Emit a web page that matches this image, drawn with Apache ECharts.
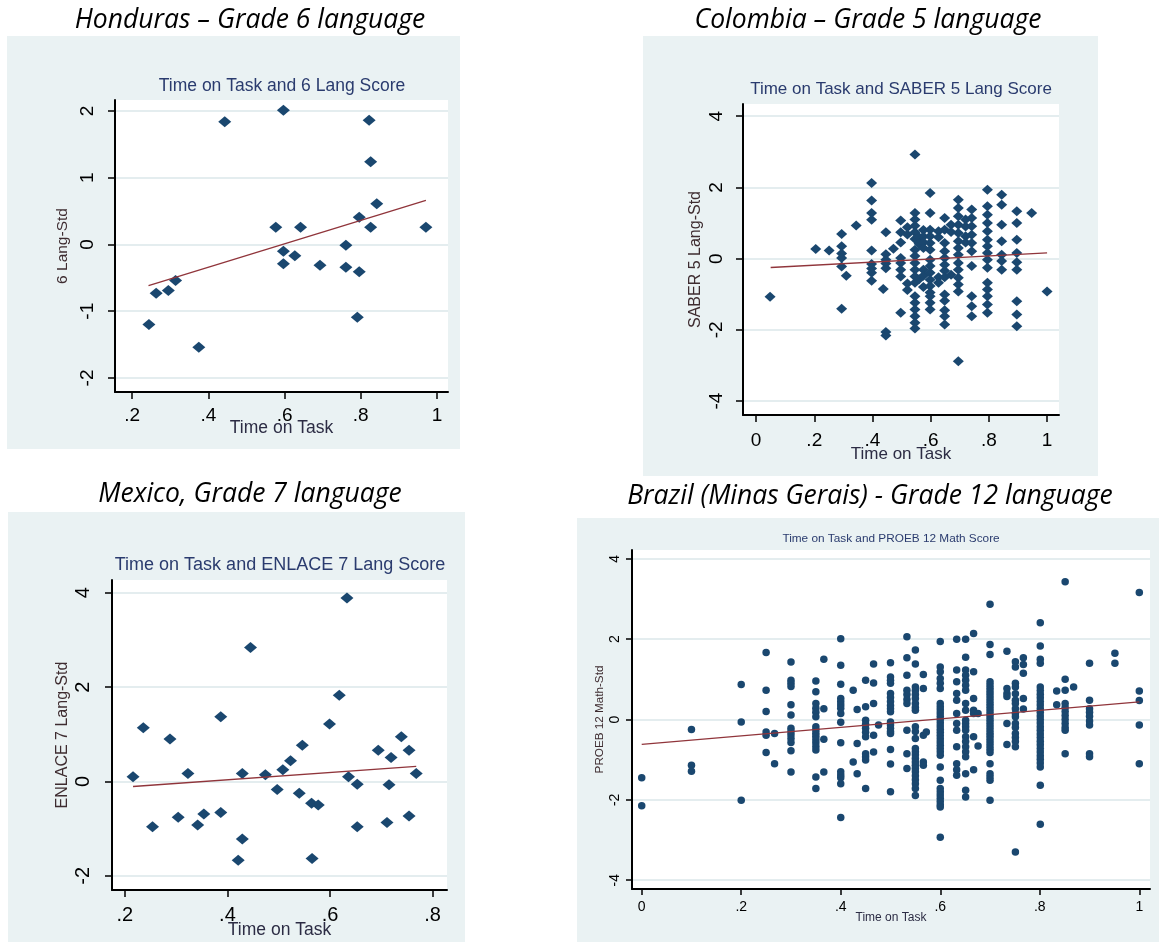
<!DOCTYPE html>
<html><head><meta charset="utf-8">
<script src="https://cdn.jsdelivr.net/npm/echarts@6/dist/echarts.min.js"></script>
<style>html,body{margin:0;padding:0;background:#fff;}#c{width:1159px;height:945px;}</style>
</head><body><div id="c"></div>
<script>
// ---------------- DATA ----------------
const panelTitles = ['Honduras – Grade 6 language', 'Colombia – Grade 5 language', 'Mexico, Grade 7 language', 'Brazil (Minas Gerais) - Grade 12 language'];
const plotTitles = ['Time on Task and 6 Lang Score', 'Time on Task and SABER 5 Lang Score', 'Time on Task and ENLACE 7 Lang Score', 'Time on Task and PROEB 12 Math Score'];
const yTitles = ['6 Lang-Std', 'SABER 5 Lang-Std', 'ENLACE 7 Lang-Std', 'PROEB 12 Math-Std'];
const xTitle = 'Time on Task';

const hondurasXTicks = [0.2, 0.4, 0.6, 0.8, 1];
const hondurasYTicks = [-2, -1, 0, 1, 2];
const colombiaXTicks = [0, 0.2, 0.4, 0.6, 0.8, 1];
const colombiaYTicks = [-4, -2, 0, 2, 4];
const mexicoXTicks = [0.2, 0.4, 0.6, 0.8];
const mexicoYTicks = [-2, 0, 2, 4];
const brazilXTicks = [0, 0.2, 0.4, 0.6, 0.8, 1];
const brazilYTicks = [-4, -2, 0, 2, 4];

const hondurasTime = [0.244,0.263,0.295,0.314,0.375,0.443,0.597,0.577,0.597,0.597,0.627,0.642,0.693,0.761,0.761,0.796,0.791,0.796,0.822,0.826,0.826,0.842,0.971];
const hondurasScore = [-1.20,-0.73,-0.69,-0.54,-1.54,1.84,2.01,0.26,-0.10,-0.29,-0.17,0.26,-0.31,-0.01,-0.34,-0.41,-1.09,0.41,1.86,1.24,0.26,0.61,0.26];
const hondurasFitX = [0.243, 0.971];
const hondurasFitY = [-0.615, 0.66];

const colombiaTime = [0.048,0.205,0.251,0.294,0.31,0.344,0.397,0.437,0.446,0.472,0.497,0.52,0.546,0.56,0.575,0.598,0.627,0.648,0.67,0.695,0.72,0.741,0.795,0.844,0.896,0.947,1.0];
const colombiaScores = [
  [-1.07],
  [0.27],
  [0.23],
  [0.69,0.35,0.14,0.02,-0.22,-1.41],
  [-0.48],
  [0.93],
  [2.12,1.63,1.28,1.09,0.23,-0.15,-0.28,-0.40,-0.62],
  [-0.85],
  [0.74,0.12,-0.03,-0.14,-0.27,-2.06,-2.16],
  [0.28],
  [1.07,0.74,0.45,0.02,-0.12,-0.31,-0.50,-1.52],
  [0.88,0.68,-0.70,-0.88],
  [2.92,1.28,1.10,0.92,0.74,0.55,0.25,0.07,-0.12,-0.31,-0.50,-0.68,-1.06,-1.24,-1.43,-1.62,-1.80,-1.96],
  [0.60,0.42,-0.58],
  [0.80,0.62,0.46,0.30,-0.31,-0.48,-0.80],
  [1.84,1.28,0.81,0.63,0.44,0.25,-0.03,-0.21,-0.40,-0.59,-0.77,-0.95,-1.06,-1.24,-1.43],
  [0.77,0.60,-0.52,-0.68],
  [1.14,0.81,0.44,0.21,0.02,-0.17,-0.34,-0.52,-1.01,-1.18,-1.45,-1.62,-1.85],
  [0.95,0.75,-0.45],
  [1.65,1.42,1.19,0.95,0.72,0.49,0.30,0.11,-0.12,-0.31,-0.54,-0.73,-0.92,-2.88],
  [1.10,0.90,0.63,0.45],
  [1.38,1.14,0.91,0.67,0.44,0.21,-0.21,-1.06,-1.34,-1.62],
  [1.93,1.47,1.23,1.00,0.77,0.53,0.35,0.16,-0.03,-0.26,-0.68,-0.87,-1.06,-1.29,-1.52],
  [1.79,1.51,0.95,0.49,0.11,-0.07,-0.31],
  [1.33,1.00,0.53,0.16,-0.10,-0.31,-1.20,-1.57,-1.90],
  [1.28],
  [-0.92]
];
const colombiaFitX = [0.05, 1.0];
const colombiaFitY = [-0.25, 0.16];

const mexicoTime = [0.216,0.236,0.254,0.288,0.304,0.323,0.342,0.354,0.387,0.387,0.421,0.429,0.429,0.445,0.474,0.497,0.508,0.523,0.540,0.546,0.564,0.577,0.565,0.599,0.618,0.633,0.636,0.653,0.653,0.694,0.711,0.715,0.719,0.739,0.754,0.754,0.768];
const mexicoScore = [0.10,1.14,-0.96,0.90,-0.76,0.17,-0.92,-0.69,1.37,-0.66,-1.67,-1.22,0.17,2.84,0.14,-0.17,0.25,0.44,-0.25,0.77,-0.46,-0.50,-1.63,1.22,1.83,3.89,0.10,-0.06,-0.96,0.66,-0.87,-0.07,0.51,0.95,0.66,-0.73,0.17];
const mexicoFitX = [0.216, 0.768];
const mexicoFitY = [-0.106, 0.318];

const brazilTime = [0,0.1,0.2,0.25,0.267,0.3,0.35,0.366,0.4,0.425,0.433,0.45,0.466,0.476,0.5,0.533,0.55,0.566,0.572,0.6,0.633,0.651,0.667,0.676,0.7,0.734,0.751,0.767,0.801,0.834,0.851,0.868,0.9,0.951,1.0];
const brazilScores = [
  [-1.45,-2.15],
  [-0.25,-1.14,-1.29],
  [0.87,-0.06,-2.01],
  [1.67,0.73,0.20,-0.31,-0.39,-0.82],
  [-0.35,-1.10],
  [1.43,0.98,0.90,0.82,0.37,0.11,-0.22,-0.30,-0.38,-0.47,-0.57,-0.78,-1.31],
  [0.96,0.69,0.40,0.28,0.18,0.07,-0.18,-0.26,-0.34,-0.42,-0.50,-0.58,-0.67,-0.76,-1.43,-1.72],
  [1.50,0.27,-0.49,-1.31],
  [2.01,1.35,0.88,0.52,0.44,0.36,0.28,0.15,-0.07,-0.58,-1.30,-1.38,-1.45,-1.60,-2.44],
  [0.73,-1.06],
  [0.25,-0.60,-1.35],
  [0.98,0.32,-0.02,-0.12,-0.22,-0.32,-0.43,-0.85,-0.93,-1.01,-1.72],
  [1.38,0.91,0.40,-0.39,-0.81],
  [-0.14],
  [1.41,1.06,0.98,0.90,0.65,0.55,0.45,0.35,0.27,0.19,-0.06,-0.14,-0.22,-0.30,-0.35,-0.75,-1.11,-1.80],
  [2.06,1.54,1.10,0.73,0.62,0.50,0.40,-0.27,-0.85,-1.22],
  [1.73,1.38,0.81,0.72,0.62,0.52,0.40,0.30,0.23,-0.18,-0.30,-0.47,-0.72,-0.80,-0.88,-0.97,-1.06,-1.14,-1.22,-1.30,-1.40,-1.50,-1.60,-1.72,-1.89],
  [1.12,0.77,-0.39,-1.06,-1.14],
  [-0.31],
  [1.94,1.31,1.19,1.02,0.90,0.77,0.40,0.32,0.24,0.16,0.08,0.00,-0.08,-0.16,-0.24,-0.32,-0.40,-0.48,-0.56,-0.64,-0.72,-0.80,-0.89,-1.18,-1.51,-1.72,-1.80,-1.88,-1.96,-2.04,-2.12,-2.18,-2.93],
  [2.00,1.23,0.94,0.65,0.48,0.15,-0.10,-0.27,-0.68,-1.10,-1.25,-1.39],
  [2.00,1.55,1.23,1.10,0.98,0.85,0.73,0.40,0.23,-0.02,-0.10,-0.18,-0.27,-0.43,-0.55,-0.68,-0.80,-0.93,-1.35,-1.76,-1.93],
  [2.14,1.19,0.52,0.23,0.15,-0.43,-1.25],
  [0.15,-0.66],
  [2.87,1.87,1.62,0.94,0.86,0.78,0.70,0.62,0.54,0.46,0.38,0.30,0.22,0.14,0.06,-0.02,-0.10,-0.18,-0.26,-0.34,-0.42,-0.50,-0.58,-0.66,-0.74,-0.82,-1.10,-1.35,-1.43,-1.51,-2.01],
  [1.70,0.77,0.65,0.57,-0.10,-0.62],
  [1.44,1.31,0.90,0.81,0.64,0.48,0.40,0.27,0.15,0.07,-0.10,-0.20,-0.35,-0.45,-0.55,-0.68,-3.30],
  [1.54,1.37,1.15,0.52,0.26],
  [2.41,1.83,1.50,1.40,0.81,0.72,0.63,0.54,0.45,0.36,0.27,0.18,0.09,0.00,-0.09,-0.18,-0.27,-0.36,-0.45,-0.54,-0.63,-0.72,-0.81,-0.90,-0.99,-1.08,-1.18,-1.64,-2.61],
  [0.71,0.37],
  [3.43,1.00,0.73,0.40,0.30,0.20,0.10,0.00,-0.10,-0.20,-0.27,-0.85],
  [0.81],
  [1.40,0.48,0.27,0.18,0.08,-0.04,-0.14,-0.85,-0.93],
  [1.65,1.40],
  [3.16,0.71,0.47,-0.14,-1.10]
];
const brazilFitX = [0, 1.0];
const brazilFitY = [-0.62, 0.44];

// ---------------- HELPERS ----------------
const FF = "'Liberation Sans', Arial, sans-serif";
const NAVY = '#1a476f', MAROON = '#90353b', BG = '#eaf2f3', GRIDC = '#e4edef';
function fmt(v){ const s = (Math.round(v*10)/10).toString(); return s.replace(/^0\./,'.').replace(/^-0\./,'-.'); }
function pairs(xs, ys){ return xs.map((x,i)=>[x, ys[i]]); }
function cols(xs, yss){ const out=[]; xs.forEach((x,i)=>yss[i].forEach(y=>out.push([x,y]))); return out; }

const panels = [
  {bg:[7,36,453,413], grid:{left:115,top:100,width:333,height:292}, x:[0.155,1.029], y:[-2.21,2.165],
   xt:hondurasXTicks, yt:hondurasYTicks, data:pairs(hondurasTime,hondurasScore), fit:pairs(hondurasFitX,hondurasFitY),
   sym:'diamond', ss:[13,11], lab:19, lw:2, tick:7, xm:14, ym:18, xn:17.5, xng:27, yn:15.5, yng:44,
   pt:[250,20], st:[282,86], sts:17.5},
  {bg:[643,36,455,440], grid:{left:743,top:104,width:316,height:311}, x:[-0.045,1.041], y:[-4.39,4.34],
   xt:colombiaXTicks, yt:colombiaYTicks, data:cols(colombiaTime,colombiaScores), fit:pairs(colombiaFitX,colombiaFitY),
   sym:'diamond', ss:[11,10], lab:19, lw:2, tick:7, xm:16, ym:17, xn:17, xng:31, yn:16, yng:39,
   pt:[868,20], st:[901,89], sts:17},
  {bg:[8,512,457,430], grid:{left:112,top:580,width:335,height:310}, x:[0.175,0.828], y:[-2.30,4.27],
   xt:mexicoXTicks, yt:mexicoYTicks, data:pairs(mexicoTime,mexicoScore), fit:pairs(mexicoFitX,mexicoFitY),
   sym:'diamond', ss:[13,11], lab:20, lw:2, tick:7, xm:15, ym:19, xn:17.5, xng:31, yn:16, yng:41,
   pt:[250,494], st:[280,565], sts:18},
  {bg:[577,518,582,424], grid:{left:632,top:550,width:518,height:339}, x:[-0.0195,1.0215], y:[-4.22,4.22],
   xt:brazilXTicks, yt:brazilYTicks, data:cols(brazilTime,brazilScores), fit:pairs(brazilFitX,brazilFitY),
   sym:'circle', ss:7.5, lab:14, lw:2, tick:6, xm:11, ym:10, xn:12, xng:23, yn:11.7, yng:26,
   pt:[870,496], st:[891,539], sts:11.8}
];

const option = {animation:false, backgroundColor:'#fff', title:[], grid:[], xAxis:[], yAxis:[], series:[], graphic:{elements:[]}};
panels.forEach((p,i)=>{
  option.graphic.elements.push({type:'rect', z:-100, silent:true, shape:{x:p.bg[0],y:p.bg[1],width:p.bg[2],height:p.bg[3]}, style:{fill:BG}});
  option.grid.push(Object.assign({show:true, backgroundColor:'#fff', borderWidth:0}, p.grid));
  option.title.push({text:panelTitles[i], left:p.pt[0], top:p.pt[1], textAlign:'center', textVerticalAlign:'middle', padding:0,
    textStyle:{fontFamily:'"Open Sans", Lato, sans-serif', fontStyle:'italic', fontWeight:'normal', fontSize:26.5, color:'#000'}});
  option.title.push({text:plotTitles[i], left:p.st[0], top:p.st[1], textAlign:'center', textVerticalAlign:'middle', padding:0,
    textStyle:{fontFamily:FF, fontWeight:'normal', fontSize:p.sts, color:'#2a3b6e'}});
  option.xAxis.push({type:'value', gridIndex:i, min:p.x[0], max:p.x[1], name:xTitle, nameLocation:'middle', nameGap:p.xng,
    nameMoveOverlap:false,
    nameTextStyle:{fontFamily:FF, fontSize:p.xn, color:'#2c2c44'},
    axisLine:{show:true, onZero:false, lineStyle:{color:'#000', width:p.lw}},
    axisTick:{show:true, length:p.tick, lineStyle:{color:'#000', width:1.5}, customValues:p.xt},
    axisLabel:{fontFamily:FF, fontSize:p.lab, color:'#000', margin:p.xm, customValues:p.xt, formatter:fmt},
    splitLine:{show:false}});
  option.yAxis.push({type:'value', gridIndex:i, min:p.y[0], max:p.y[1], name:yTitles[i], nameLocation:'middle', nameGap:p.yng,
    nameMoveOverlap:false,
    nameTextStyle:{fontFamily:FF, fontSize:p.yn, color:'#3e2c30'},
    axisLine:{show:true, onZero:false, lineStyle:{color:'#000', width:p.lw}},
    axisTick:{show:true, length:p.tick, lineStyle:{color:'#000', width:1.5}, customValues:p.yt},
    axisLabel:{fontFamily:FF, fontSize:p.lab, color:'#000', margin:p.ym, rotate:90, customValues:p.yt, formatter:fmt},
    splitLine:{show:true, lineStyle:{color:GRIDC, width:2}}});
  option.series.push({type:'scatter', xAxisIndex:i, yAxisIndex:i, data:p.data, symbol:p.sym, symbolSize:p.ss, silent:true,
    itemStyle:{color:NAVY, opacity:1}, z:2});
  option.series.push({type:'line', xAxisIndex:i, yAxisIndex:i, data:p.fit, showSymbol:false, silent:true,
    lineStyle:{color:MAROON, width:1.3}, z:3});
});
const chart = echarts.init(document.getElementById('c'), null, {renderer:'canvas'});
chart.setOption(option);
</script>
</body></html>
